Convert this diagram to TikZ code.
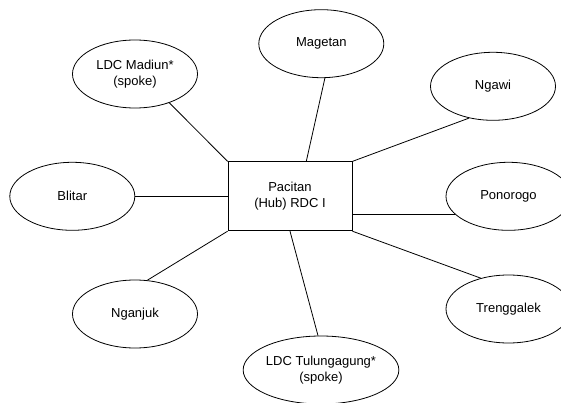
\documentclass[tikz,border=0pt]{standalone}
\usepackage{fontspec}
\setmainfont{Liberation Sans}
\usetikzlibrary{positioning,shapes.geometric}

\begin{document}
\begin{tikzpicture}[
    x=1pt, y=1pt,
    node distance=100pt, on grid,
    hubbox/.style={draw, line width=0.8pt, minimum width=124pt, minimum height=69pt,
                   align=center, inner sep=0pt, font=\fontsize{13}{16}\selectfont},
    spoke/.style={draw, ellipse, line width=0.8pt, minimum width=125pt, minimum height=68pt,
                  align=center, inner sep=0pt, font=\fontsize{13}{16}\selectfont},
    link/.style={line width=0.8pt},
  ]
  \useasboundingbox (0,0) rectangle (561,-403);
  \clip (0,0) rectangle (561,-403);
  % Hub in the middle
  \node[hubbox] at (290,-196.3) (hub) {Pacitan\\(Hub) RDC I};
  % Spokes round the hub
  \node[spoke, above left=122.3pt and 155pt of hub]   (madiun)     {LDC Madiun*\\(spoke)};
  \node[spoke, above right=152.6pt and 31.3pt of hub] (magetan)    {Magetan};
  \node[spoke, above right=110pt and 203pt of hub]    (ngawi)      {Ngawi};
  \node[spoke, left=217.7pt of hub]                   (blitar)     {Blitar};
  \node[spoke, right=218.5pt of hub]                  (ponorogo)   {Ponorogo};
  \node[spoke, below left=117.7pt and 155pt of hub]   (nganjuk)    {Nganjuk};
  \node[spoke, below right=173.7pt and 31pt of hub]   (tulung)     {LDC Tulungagung*\\(spoke)};
  \node[spoke, below right=112.7pt and 218.5pt of hub] (trenggalek) {Trenggalek};

  % Links
  \draw[link] (hub.north west) -- (madiun.-40);
  \draw[link] (hub.65) -- (magetan.-84);
  \draw[link] (hub.north east) -- (ngawi.-127);
  \draw[link] (blitar) -- (hub);
  \draw[link] (ponorogo.-161 -| hub.east) -- (ponorogo.-161);
  \draw[link] (hub.south west) -- (nganjuk.70);
  \draw[link] (hub.south) -- (tulung.95);
  \draw[link] (hub.south east) -- (trenggalek.132);
\end{tikzpicture}
\end{document}
